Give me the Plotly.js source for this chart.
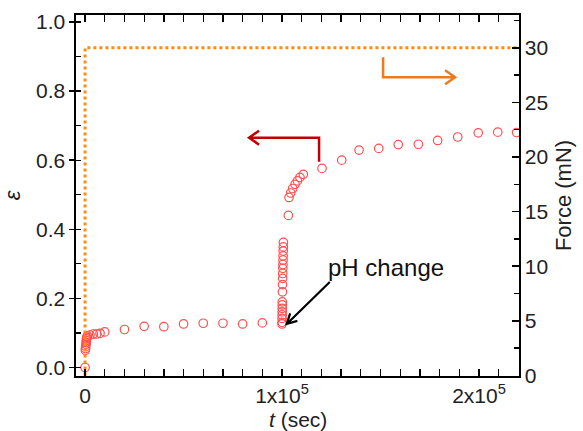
<!DOCTYPE html>
<html>
<head>
<meta charset="utf-8">
<script src="https://cdn.plot.ly/plotly-3.0.1.min.js"></script>
<style>html,body{margin:0;padding:0;background:#fff;}#chart{width:583px;height:431px;}</style>
</head>
<body>
<div id="chart"></div>
<script>
// strain epsilon vs time (sec)
const epsTime = [0,
  150, 250, 350, 450, 550, 650, 750, 850,
  1200, 2500, 4200, 5900, 7600, 10000,
  20000, 30000, 40000, 50000, 60000, 70000, 80000, 90000,
  100000, 100020, 100040, 100060, 100080, 100100, 100120, 100140, 100200, 100250,
  100300, 100350, 100400, 100450, 100500, 100550, 100600, 100650, 100700,
  103200, 103550, 104400, 105400, 106600, 107800, 109100, 110800,
  120300, 130300, 139100, 149100, 159000, 169200, 179000, 189200, 199600, 209500, 219100];
const epsValue = [0.0,
  0.050, 0.055, 0.061, 0.067, 0.072, 0.078, 0.083, 0.087,
  0.091, 0.094, 0.097, 0.097, 0.099, 0.103,
  0.110, 0.119, 0.118, 0.126, 0.128, 0.128, 0.126, 0.129,
  0.126, 0.131, 0.142, 0.152, 0.161, 0.171, 0.181, 0.190, 0.219, 0.240,
  0.258, 0.272, 0.287, 0.298, 0.311, 0.323, 0.337, 0.349, 0.362,
  0.440, 0.492, 0.505, 0.518, 0.530, 0.540, 0.550, 0.559,
  0.576, 0.600, 0.629, 0.634, 0.645, 0.646, 0.657, 0.667, 0.679, 0.681, 0.680];
// applied force (mN)
const forceTime = [0, 0, 220300];
const forceValue = [0, 30, 30];
// tick labels
const xTickVals = [0, 100000, 200000];
const xTickText = ['0', '1x10<sup>5</sup>', '2x10<sup>5</sup>'];

const FONT = 'Arial, "Liberation Sans", sans-serif';

const traces = [
  {
    x: forceTime, y: forceValue, yaxis: 'y2', type: 'scatter', mode: 'lines',
    line: {color: '#FF8C10', width: 3, dash: 'dot'}, hoverinfo: 'skip'
  },
  {
    x: epsTime, y: epsValue, type: 'scatter', mode: 'markers',
    marker: {symbol: 'circle-open', size: 8.5, color: '#FF4F4F', line: {width: 1.2, color: '#FF4F4F'}}
  }
];

const axisCommon = {
  showline: true, linecolor: '#000', linewidth: 1.6,
  showgrid: false, zeroline: false,
  tickcolor: '#000', tickwidth: 1.5,
  tickfont: {family: FONT, size: 21, color: '#222'}
};

// elbow / pointer arrows, drawn as pixel-sized paths anchored to a data point
function arrowShape(ax, ay, path, color, width) {
  return {
    type: 'path', xref: 'x', yref: 'y', xsizemode: 'pixel', ysizemode: 'pixel',
    xanchor: ax, yanchor: ay, path: path,
    line: {color: color, width: width}, fillcolor: 'rgba(0,0,0,0)'
  };
}

const layout = {
  width: 583, height: 431,
  margin: {l: 76, r: 64, t: 15, b: 55},
  paper_bgcolor: '#fff', plot_bgcolor: '#fff',
  showlegend: false,
  font: {family: FONT, color: '#222'},
  xaxis: Object.assign({}, axisCommon, {
    range: [-4600, 220300],
    tickmode: 'array', tickvals: xTickVals, ticktext: xTickText,
    ticks: 'inside', ticklen: 7, mirror: 'allticks',
    minor: {dtick: 10000, tick0: 0, ticks: 'inside', ticklen: 5, tickcolor: '#000', tickwidth: 1.3}
  }),
  yaxis: Object.assign({}, axisCommon, {
    range: [-0.0246, 1.02],
    dtick: 0.2, tick0: 0, tickformat: '.1f',
    ticks: 'outside', ticklen: 5,
    minor: {dtick: 0.1, tick0: 0, ticks: 'inside', ticklen: 5, tickcolor: '#000', tickwidth: 1.3},
    title: {text: '<i>ε</i>', font: {family: FONT, size: 22, color: '#222'}, standoff: 14}
  }),
  yaxis2: Object.assign({}, axisCommon, {
    overlaying: 'y', side: 'right',
    range: [-0.05, 33.0],
    dtick: 5, tick0: 0,
    ticks: 'inside', ticklen: 7,
    minor: {dtick: 2.5, tick0: 0, ticks: 'inside', ticklen: 5, tickcolor: '#000', tickwidth: 1.3},
    title: {text: 'Force (mN)', font: {family: FONT, size: 22, color: '#222'}, standoff: 8}
  }),
  shapes: [
    // red arrow -> left axis (epsilon)
    arrowShape(118800, 0.665, 'M0,-24 L0,0 L-70,0 M-60,7 L-70,0 L-60,-7', '#C00000', 2.5),
    // orange arrow -> right axis (force)
    arrowShape(151300, 0.840, 'M0,20 L0,0 L72,0 M62,7 L72,0 L62,-7', '#EE7A1E', 2.5),
    // black arrow -> pH change point
    arrowShape(102400, 0.126, 'M43,42 L0,0 M3.4,10.5 L0,0 L10.6,3.1', '#000', 2.2)
  ],
  annotations: [
    {x: 0.5, y: -0.12, xref: 'paper', yref: 'paper', text: '<i>t</i> (sec)', showarrow: false,
     xanchor: 'center', yanchor: 'middle', font: {family: FONT, size: 21, color: '#222'}},
    {x: 153000, y: 0.29, xref: 'x', yref: 'y', text: 'pH change', showarrow: false,
     xanchor: 'center', yanchor: 'middle', font: {family: FONT, size: 24, color: '#111'}}
  ]
};

Plotly.newPlot('chart', traces, layout, {displayModeBar: false, staticPlot: true});
</script>
</body>
</html>
